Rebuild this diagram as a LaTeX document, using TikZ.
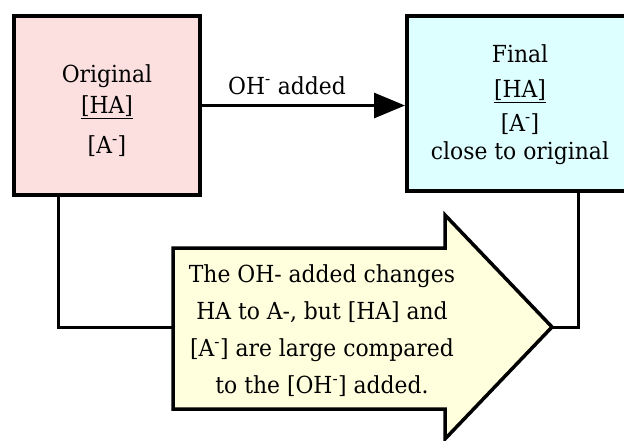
\documentclass[tikz,border=0pt]{standalone}
\usepackage{fontspec}
\setmainfont{DejaVu Serif}[FakeStretch=0.93]
\usetikzlibrary{arrows.meta}
\definecolor{pinkc}{RGB}{252,224,224}
\definecolor{cyanc}{RGB}{222,255,255}
\definecolor{yellowc}{RGB}{255,255,222}
\tikzset{
  box/.style={draw=black, line width=4pt, inner sep=0pt},
  txt/.style={inner sep=0pt, align=center, font=\fontsize{23.5}{28}\selectfont},
  conn/.style={draw=black, line width=3pt},
  bigarrow/.style={draw=black, line width=3.5pt, line join=miter, fill=yellowc}
}
\begin{document}
\begin{tikzpicture}[x=1pt,y=-1pt]
\useasboundingbox (0,0) rectangle (624,440);
\clip (0,0) rectangle (624,440);
% boxes
\node[box, fill=pinkc, minimum width=186pt, minimum height=179pt] (orig) at (107,105.5) {};
\node[box, fill=cyanc, minimum width=253pt, minimum height=175pt] (final) at (533.5,103.5) {};
\node[txt, anchor=north] (origtxt) at (107,64.8) {Original\\[3pt]\underline{[HA]}\\[12pt][A\textsuperscript{-}]};
\node[txt, anchor=north] (finaltxt) at (520,44.8) {Final\\[7pt]\underline{[HA]}\\[6pt][A\textsuperscript{-}]\\close to original};
% top arrow
\draw[conn, -{Triangle[length=31pt,width=25pt]}] (orig.east) -- (orig.east -| final.west);
\node[txt, anchor=base] (ohlabel) at (287,94) {OH\textsuperscript{-} added};
% big arrow
\path[bigarrow] (173,248) -- (445,248) -- (445,215) -- (552,327) -- (445,439) -- (445,409) -- (173,409) -- cycle;
\coordinate (tail) at (173,327);
\coordinate (tip) at (552,327);
\node[txt, anchor=north, font=\fontsize{23.5}{37}\selectfont] (note) at (322,264.8) {The OH- added changes\\HA to A-, but [HA] and\\{}[A\textsuperscript{-}] are large compared\\to the [OH\textsuperscript{-}] added.};
% connectors
\draw[conn] ([xshift=46pt]orig.south west) |- (tail);
\draw[conn] (tip) -| (final.south -| 578,0);
\end{tikzpicture}
\end{document}
